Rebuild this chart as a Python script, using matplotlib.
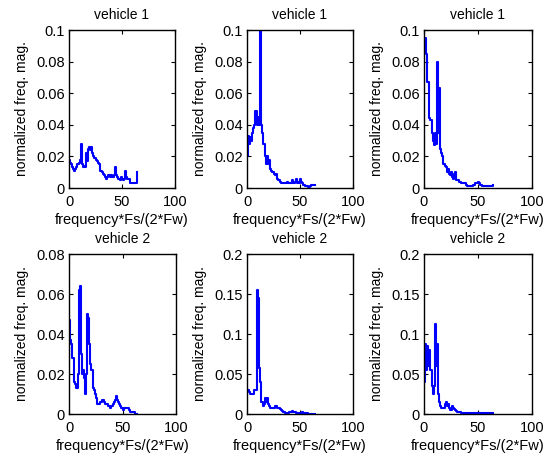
import numpy as np
import matplotlib
matplotlib.use("Agg")
import matplotlib.pyplot as plt

plt.rcParams['font.family'] = ['Liberation Sans', 'DejaVu Sans']

freq = np.arange(0, 65)

# vehicle 1, three sensors
v1_a = [0.018, 0.016, 0.015, 0.013, 0.012, 0.011, 0.012, 0.013, 0.015, 0.016,
        0.018, 0.028, 0.015, 0.013, 0.014, 0.013, 0.022, 0.017, 0.025, 0.026,
        0.024, 0.026, 0.022, 0.020, 0.019, 0.018, 0.017, 0.016, 0.015, 0.011,
        0.011, 0.010, 0.009, 0.008, 0.007, 0.006, 0.007, 0.008, 0.008, 0.007,
        0.008, 0.007, 0.008, 0.013, 0.008, 0.007, 0.006, 0.006, 0.005, 0.007,
        0.006, 0.005, 0.006, 0.011, 0.007, 0.006, 0.006, 0.006, 0.003, 0.003,
        0.003, 0.003, 0.003, 0.003, 0.010]
v1_b = [0.020, 0.033, 0.028, 0.032, 0.030, 0.035, 0.038, 0.040, 0.049, 0.040,
        0.045, 0.040, 0.100, 0.040, 0.035, 0.028, 0.028, 0.020, 0.015, 0.020,
        0.015, 0.018, 0.012, 0.011, 0.010, 0.009, 0.008, 0.009, 0.006, 0.005,
        0.005, 0.004, 0.003, 0.003, 0.003, 0.003, 0.003, 0.003, 0.004, 0.003,
        0.003, 0.003, 0.005, 0.003, 0.003, 0.004, 0.006, 0.003, 0.004, 0.003,
        0.006, 0.004, 0.003, 0.002, 0.002, 0.001, 0.001, 0.001, 0.0005, 0.001,
        0.002, 0.002, 0.002, 0.002, 0.002]
v1_c = [0.088, 0.095, 0.085, 0.067, 0.067, 0.044, 0.043, 0.035, 0.030, 0.027,
        0.035, 0.028, 0.080, 0.035, 0.063, 0.025, 0.022, 0.020, 0.015, 0.014,
        0.013, 0.010, 0.012, 0.009, 0.008, 0.010, 0.007, 0.006, 0.009, 0.010,
        0.005, 0.005, 0.004, 0.004, 0.003, 0.003, 0.003, 0.003, 0.003, 0.002,
        0.001, 0.001, 0.001, 0.001, 0.001, 0.002, 0.002, 0.003, 0.003, 0.003,
        0.004, 0.003, 0.002, 0.002, 0.001, 0.001, 0.001, 0.001, 0.001, 0.001,
        0.001, 0.001, 0.001, 0.001, 0.002]

# vehicle 2, three sensors
v2_a = [0.047, 0.037, 0.035, 0.028, 0.028, 0.016, 0.015, 0.013, 0.020, 0.062,
        0.064, 0.030, 0.020, 0.022, 0.018, 0.010, 0.020, 0.050, 0.048, 0.035,
        0.025, 0.022, 0.013, 0.012, 0.010, 0.008, 0.005, 0.005, 0.005, 0.006,
        0.006, 0.007, 0.007, 0.006, 0.005, 0.005, 0.004, 0.004, 0.003, 0.004,
        0.004, 0.005, 0.006, 0.007, 0.009, 0.007, 0.006, 0.005, 0.004, 0.003,
        0.002, 0.003, 0.003, 0.003, 0.003, 0.003, 0.002, 0.001, 0.001, 0.001,
        0.001, 0.001, 0.000, 0.000, 0.000]
v2_b = [0.030, 0.030, 0.028, 0.025, 0.025, 0.025, 0.025, 0.030, 0.030, 0.155,
        0.145, 0.058, 0.040, 0.015, 0.015, 0.010, 0.012, 0.020, 0.015, 0.020,
        0.012, 0.010, 0.008, 0.008, 0.008, 0.008, 0.010, 0.010, 0.008, 0.008,
        0.007, 0.006, 0.005, 0.004, 0.002, 0.002, 0.001, 0.001, 0.001, 0.001,
        0.002, 0.002, 0.004, 0.003, 0.002, 0.002, 0.001, 0.001, 0.001, 0.001,
        0.001, 0.001, 0.002, 0.001, 0.001, 0.001, 0.001, 0.001, 0.0005, 0.0005,
        0.0005, 0.0005, 0.0005, 0.0005, 0.0]
v2_c = [0.040, 0.088, 0.055, 0.085, 0.060, 0.080, 0.055, 0.035, 0.025, 0.035,
        0.113, 0.060, 0.088, 0.025, 0.015, 0.010, 0.008, 0.008, 0.008, 0.012,
        0.015, 0.010, 0.012, 0.008, 0.005, 0.005, 0.010, 0.008, 0.006, 0.005,
        0.004, 0.003, 0.002, 0.002, 0.001, 0.001, 0.001, 0.001, 0.001, 0.001,
        0.001, 0.001, 0.001, 0.001, 0.001, 0.001, 0.001, 0.001, 0.001, 0.001,
        0.001, 0.001, 0.001, 0.001, 0.001, 0.001, 0.001, 0.001, 0.001, 0.001,
        0.001, 0.001, 0.001, 0.001, 0.001]

titles = ["vehicle 1"] * 3 + ["vehicle 2"] * 3
series = [v1_a, v1_b, v1_c, v2_a, v2_b, v2_c]
ylims = [0.1, 0.1, 0.1, 0.08, 0.2, 0.2]
yticks = [
    ([0, 0.02, 0.04, 0.06, 0.08, 0.1], ["0", "0.02", "0.04", "0.06", "0.08", "0.1"]),
    ([0, 0.02, 0.04, 0.06, 0.08, 0.1], ["0", "0.02", "0.04", "0.06", "0.08", "0.1"]),
    ([0, 0.02, 0.04, 0.06, 0.08, 0.1], ["0", "0.02", "0.04", "0.06", "0.08", "0.1"]),
    ([0, 0.02, 0.04, 0.06, 0.08], ["0", "0.02", "0.04", "0.06", "0.08"]),
    ([0, 0.05, 0.1, 0.15, 0.2], ["0", "0.05", "0.1", "0.15", "0.2"]),
    ([0, 0.05, 0.1, 0.15, 0.2], ["0", "0.05", "0.1", "0.15", "0.2"]),
]

W, H = 544, 459
# axes boxes in pixels: left, top, right, bottom
boxes = [(69, 30, 175, 188), (247, 30, 353, 188), (424, 30, 532, 188),
         (69, 254, 176, 414), (247, 254, 353, 414), (424, 254, 532, 414)]

fig = plt.figure(figsize=(W / 100, H / 100), dpi=100)
for i in range(6):
    l, t, r, b = boxes[i]
    ax = fig.add_axes([l / W, 1 - b / H, (r - l) / W, (b - t) / H])
    ax.plot(freq, series[i], drawstyle="steps-post", color="#0000ff", lw=1.5)
    ax.set_xlim(0, 100)
    ax.set_ylim(0, ylims[i])
    ax.set_xticks([0, 50, 100])
    ax.set_xticklabels(["0", "50", "100"])
    ax.set_yticks(yticks[i][0])
    ax.set_yticklabels(yticks[i][1])
    ax.tick_params(direction="in", top=True, right=True, length=3, width=0.8,
                   labelsize=10.5)
    ax.tick_params(axis="x", pad=5)
    ax.tick_params(axis="y", pad=3)
    for s in ax.spines.values():
        s.set_linewidth(1.0)
    ax.set_title(titles[i], fontsize=10, pad=8)
    ax.set_xlabel("frequency*Fs/(2*Fw)", fontsize=10.5, labelpad=3)
    ax.set_ylabel("normalized freq. mag.", fontsize=10, labelpad=5)

fig.savefig("out.png", dpi=100)
